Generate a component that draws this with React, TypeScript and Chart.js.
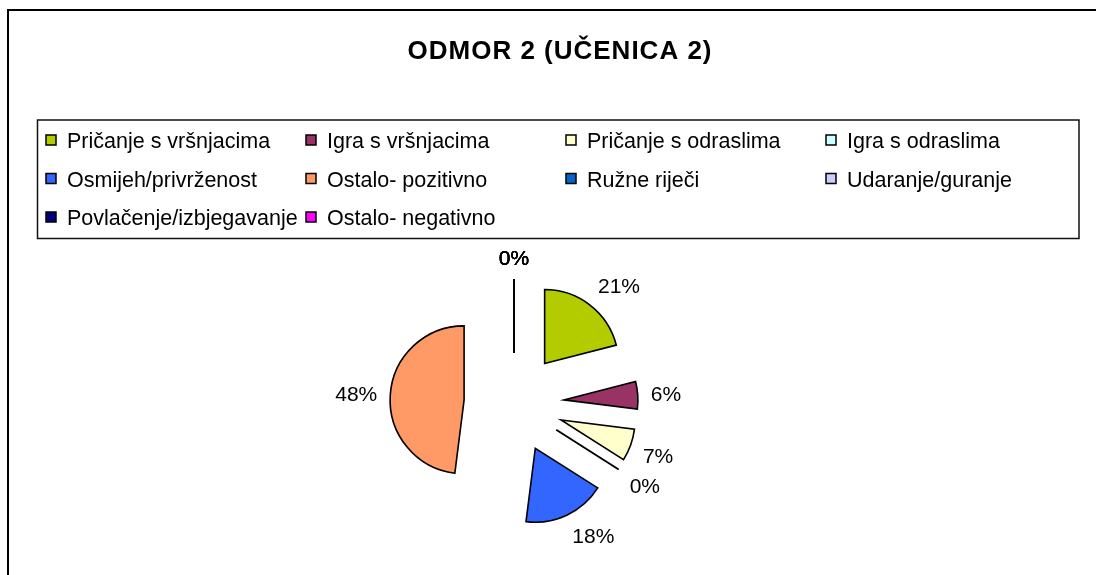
import React, { useEffect, useRef } from 'react';
import { Chart, registerables, ArcElement, PieController } from 'chart.js';

Chart.register(...registerables);

const TITLE = 'ODMOR 2 (UČENICA 2)';
const categories = [
  'Pričanje s vršnjacima',
  'Igra s vršnjacima',
  'Pričanje s odraslima',
  'Igra s odraslima',
  'Osmijeh/privrženost',
  'Ostalo- pozitivno',
  'Ružne riječi',
  'Udaranje/guranje',
  'Povlačenje/izbjegavanje',
  'Ostalo- negativno',
];
const shares = [21, 6, 7, 0, 18, 48, 0, 0, 0, 0];
const colors = [
  '#B3CC00',
  '#993366',
  '#FFFFCC',
  '#CCFFFF',
  '#3366FF',
  '#FF9966',
  '#0066CC',
  '#CCCCFF',
  '#000080',
  '#FF00FF',
];

const FONT = '"Liberation Sans", Arial, sans-serif';
const W = 1096;
const H = 575;
const EXPLODE = 50;
const LABEL_GAP = 13;

class ExplodedArc extends ArcElement {
  static id = 'explodedArc';
  draw(ctx: CanvasRenderingContext2D) {
    const self: any = this;
    const p = self.getProps(['x', 'y', 'startAngle', 'endAngle', 'outerRadius', 'circumference']);
    const o = self.options;
    const mid = (p.startAngle + p.endAngle) / 2;
    ctx.save();
    ctx.translate(Math.cos(mid) * EXPLODE, Math.sin(mid) * EXPLODE);
    if (!p.circumference) {
      ctx.strokeStyle = o.borderColor;
      ctx.lineWidth = o.borderWidth + 0.3;
      ctx.lineCap = 'butt';
      ctx.beginPath();
      ctx.moveTo(p.x, p.y);
      ctx.lineTo(p.x + Math.cos(p.startAngle) * p.outerRadius, p.y + Math.sin(p.startAngle) * p.outerRadius);
      ctx.stroke();
    } else {
      super.draw(ctx);
    }
    ctx.restore();
  }
}

class ExplodedPieController extends PieController {
  static id = 'explodedPie';
  static defaults = { dataElementType: 'explodedArc' };
}

Chart.register(ExplodedArc as any, ExplodedPieController as any);

const clamp1 = (v: number) => Math.max(-1, Math.min(1, v));

const framePlugin = {
  id: 'frameLegend',
  beforeDraw(chart: any) {
    const ctx: CanvasRenderingContext2D = chart.ctx;
    ctx.save();
    ctx.fillStyle = '#fff';
    ctx.fillRect(0, 0, chart.width, chart.height);
    // outer frame (continues beyond the visible area)
    ctx.strokeStyle = '#000';
    ctx.lineWidth = 2;
    ctx.strokeRect(8, 10, 1400, 900);
    // title
    ctx.fillStyle = '#000';
    ctx.font = `bold 26px ${FONT}`;
    (ctx as any).letterSpacing = '1px';
    ctx.textAlign = 'center';
    ctx.textBaseline = 'alphabetic';
    ctx.fillText(chart.options.plugins.frameLegend.title, 560, 59);
    (ctx as any).letterSpacing = '0px';
    // legend box
    ctx.lineWidth = 1.5;
    ctx.strokeStyle = '#111';
    ctx.strokeRect(37.5, 120, 1041.5, 118.5);
    const labels: string[] = chart.data.labels;
    const bg: string[] = chart.data.datasets[0].backgroundColor;
    ctx.font = `21.5px ${FONT}`;
    ctx.textAlign = 'left';
    const rows = [140, 178.5, 217];
    labels.forEach((lab, i) => {
      const col = i % 4;
      const row = Math.floor(i / 4);
      const bx = 46 + col * 260;
      const cy = rows[row];
      ctx.fillStyle = bg[i];
      ctx.fillRect(bx, cy - 5, 10, 10);
      ctx.lineWidth = 1.5;
      ctx.strokeStyle = '#000';
      ctx.strokeRect(bx, cy - 5, 10, 10);
      ctx.fillStyle = '#000';
      ctx.fillText(lab, bx + 21, cy + 8);
    });
    ctx.restore();
  },
};

const labelsPlugin = {
  id: 'pctLabels',
  afterDatasetsDraw(chart: any) {
    const ctx: CanvasRenderingContext2D = chart.ctx;
    const meta = chart.getDatasetMeta(0);
    const data: number[] = chart.data.datasets[0].data;
    const total = data.reduce((a, b) => a + b, 0);
    ctx.save();
    ctx.font = `21px ${FONT}`;
    ctx.fillStyle = '#000';
    ctx.textAlign = 'center';
    ctx.textBaseline = 'alphabetic';
    meta.data.forEach((arc: any, i: number) => {
      const p = arc.getProps(['x', 'y', 'startAngle', 'endAngle', 'outerRadius']);
      const mid = (p.startAngle + p.endAngle) / 2;
      const c = Math.cos(mid);
      const s = Math.sin(mid);
      const txt = Math.round((data[i] / total) * 100) + '%';
      const w = ctx.measureText(txt).width;
      const h = 18;
      const d = p.outerRadius + EXPLODE + LABEL_GAP;
      const cx = p.x + c * d + clamp1(2.4 * c) * (w / 2);
      const cy = p.y + s * d + clamp1(2 * s) * (h / 2);
      ctx.fillText(txt, cx, cy + 7.5);
    });
    ctx.restore();
  },
};

export default function App() {
  const ref = useRef<HTMLCanvasElement | null>(null);
  useEffect(() => {
    if (!ref.current) return;
    const chart = new Chart(ref.current, {
      type: 'explodedPie' as any,
      data: {
        labels: categories,
        datasets: [
          {
            data: shares,
            backgroundColor: colors,
            borderColor: '#000',
            borderWidth: 1.6,
            borderJoinStyle: 'miter',
            radius: 74,
          } as any,
        ],
      },
      options: {
        animation: false,
        responsive: false,
        maintainAspectRatio: false,
        devicePixelRatio: 1,
        layout: { padding: { left: 0, right: 68, top: 251, bottom: 20 } },
        plugins: {
          legend: { display: false },
          title: { display: false },
          tooltip: { enabled: false },
          frameLegend: { title: TITLE },
        } as any,
      },
      plugins: [framePlugin, labelsPlugin],
    });
    return () => chart.destroy();
  }, []);
  return (
    <div style={{ position: 'absolute', left: 0, top: 0, width: W, height: H, overflow: 'hidden' }}>
      <canvas ref={ref} width={W} height={H} style={{ display: 'block', width: W, height: H }} />
    </div>
  );
}
